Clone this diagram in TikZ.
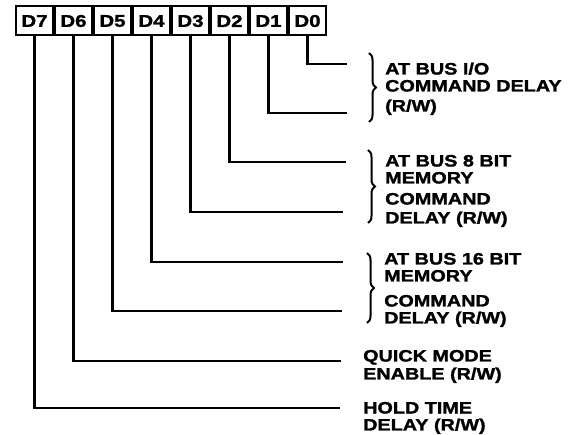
\documentclass[tikz,border=0pt]{standalone}
\usepackage{fontspec}
\newfontfamily\lblfont[FakeStretch=1.2,FakeBold=1.5]{Liberation Sans Bold}
\usetikzlibrary{decorations.pathreplacing}
\tikzstyle{bitbox}=[rectangle, draw, line width=2pt, inner sep=0pt, minimum width=37pt, minimum height=29pt, font={\lblfont\fontsize{17}{17}\selectfont}]
\newcommand{\bitbox}{\node[bitbox]}
\tikzstyle{field}=[anchor=base west, align=left, inner sep=0pt, font={\lblfont\fontsize{16.5}{17}\selectfont}]
\tikzstyle{curly}=[decorate, decoration={brace, amplitude=7pt}, line width=2pt]

\begin{document}
\begin{tikzpicture}[x=1pt, y=-1pt
    ,every edge/.style={draw, line width=2.2pt, to path={|- (\tikztotarget)}}
]
\useasboundingbox (0,0) rectangle (573,435);
\bitbox (d7) at (34.5,21) {D7};
\bitbox (d6) at (73.5,21) {D6};
\bitbox (d5) at (112.5,21) {D5};
\bitbox (d4) at (151.5,21) {D4};
\bitbox (d3) at (190.5,21) {D3};
\bitbox (d2) at (229.5,21) {D2};
\bitbox (d1) at (268.5,21) {D1};
\bitbox (d0) at (307.5,21) {D0};
\coordinate (e0) at (347,64);
\coordinate (e1) at (347,113);
\coordinate (e2) at (346,162);
\coordinate (e3) at (343,212);
\coordinate (e4) at (343,262);
\coordinate (e5) at (342,311);
\coordinate (e6) at (341,361);
\coordinate (e7) at (340,408);
\path
(d0.south) edge (e0)
(d1.south) edge (e1)
(d2.south) edge (e2)
(d3.south) edge (e3)
(d4.south) edge (e4)
(d5.south) edge (e5)
(d6.south) edge (e6)
(d7.south) edge (e7)
;
% braces
\draw[curly] (369,53) -- (369,122);
\draw[curly] (368,150) -- (368,223);
\draw[curly] (367,253) -- (367,323);
% last line baselines
\node[field] (iodelay) at (385,111.5) {AT BUS I/O\\COMMAND DELAY\\[3pt](R/W)};
\node[field] (memdelay8) at (385,223.5) {AT BUS 8 BIT\\MEMORY\\[4pt]COMMAND\\[2pt]DELAY (R/W)};
\node[field] (memdelay16) at (384,323.5) {AT BUS 16 BIT\\MEMORY\\[8pt]COMMAND\\DELAY (R/W)};
\node[field] (quick) at (363,379.5) {QUICK MODE\\[1pt]ENABLE (R/W)};
\node[field] (hold) at (363,430.5) {HOLD TIME\\DELAY (R/W)};
\end{tikzpicture}
\end{document}
